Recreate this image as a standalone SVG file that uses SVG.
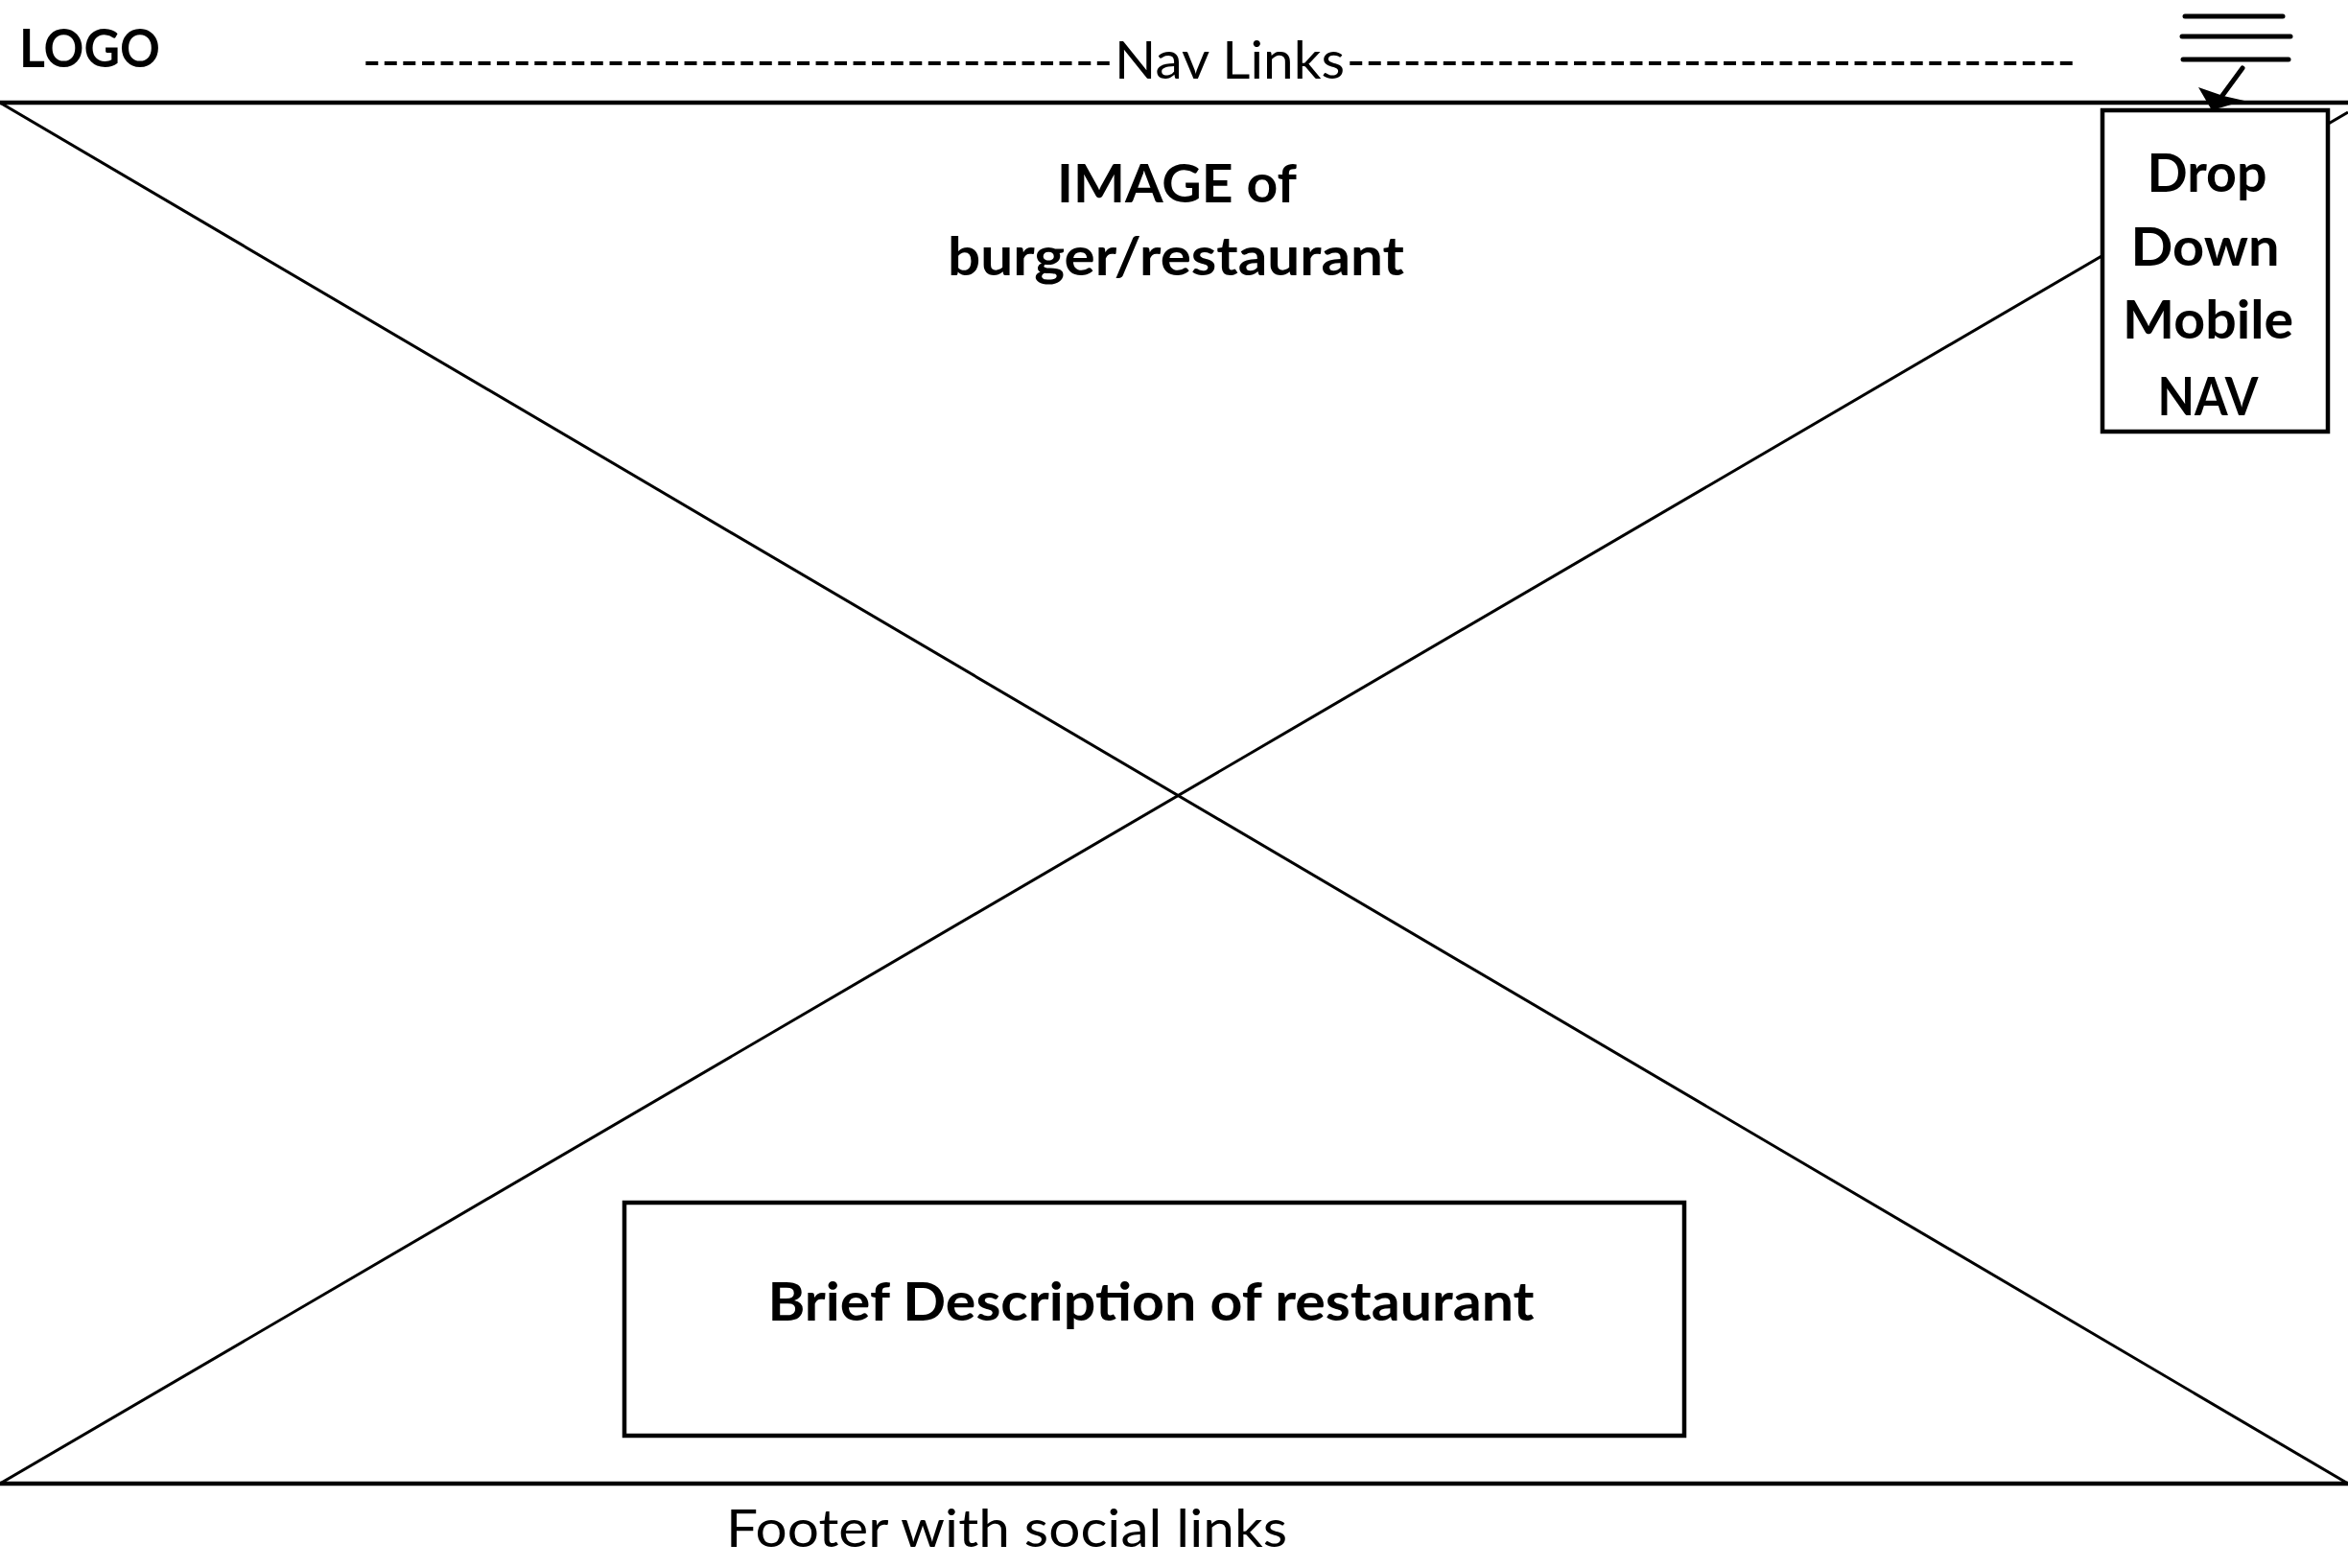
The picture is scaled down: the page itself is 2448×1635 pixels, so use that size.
<svg xmlns="http://www.w3.org/2000/svg" width="2448" height="1635" viewBox="0 0 2448 1635">
<style>
.ln{stroke:#000;fill:none;stroke-width:3}
.frame{stroke:#000;fill:none;stroke-width:4.5}
.box{stroke:#000;fill:#fff;stroke-width:4.5}
.b{font-family:Lato,"Liberation Sans",sans-serif;font-weight:bold;font-size:56px;fill:#000}
.r{font-family:Lato,"Liberation Sans",sans-serif;font-weight:normal;font-size:55px;fill:#000}
.m{text-anchor:middle}
.ham{stroke:#000;stroke-width:5;stroke-linecap:round}
</style>
<rect width="2448" height="1635" fill="#fff"/>
<g id="image-placeholder">
<line class="ln" x1="0" y1="107" x2="2448" y2="1547"/>
<line class="ln" x1="0" y1="1547" x2="2448" y2="117"/>
<text class="b m" x="1227" y="211" textLength="250" lengthAdjust="spacingAndGlyphs">IMAGE of</text>
<text class="b m" x="1226" y="287" textLength="476" lengthAdjust="spacingAndGlyphs">burger/restaurant</text>
</g>
<g id="header">
<line class="frame" x1="0" y1="107" x2="2448" y2="107"/>
<text class="b" x="20" y="70" textLength="147" lengthAdjust="spacingAndGlyphs">LOGO</text>
<text class="r" y="82"><tspan x="378" textLength="782" lengthAdjust="spacingAndGlyphs">----------------------------------------</tspan><tspan x="1162" textLength="240" lengthAdjust="spacingAndGlyphs">Nav Links</tspan><tspan x="1404" textLength="760" lengthAdjust="spacingAndGlyphs">---------------------------------------</tspan></text>
</g>
<g id="hamburger">
<line class="ham" x1="2278" y1="17" x2="2380" y2="17"/>
<line class="ham" x1="2275" y1="38" x2="2388" y2="38"/>
<line class="ham" x1="2276" y1="62" x2="2386" y2="62"/>
</g>
<g id="dropdown">
<rect class="box" x="2192" y="115" width="235" height="335"/>
<text class="b m" x="2301" y="200" textLength="125" lengthAdjust="spacingAndGlyphs">Drop</text>
<text class="b m" x="2299" y="277" textLength="155" lengthAdjust="spacingAndGlyphs">Down</text>
<text class="b m" x="2302" y="353" textLength="178" lengthAdjust="spacingAndGlyphs">Mobile</text>
<text class="b m" x="2302" y="433" textLength="105" lengthAdjust="spacingAndGlyphs">NAV</text>
</g>
<g id="description">
<rect class="box" x="651" y="1254" width="1105" height="243"/>
<text class="b m" x="1200" y="1377" textLength="799" lengthAdjust="spacingAndGlyphs">Brief Description of restaurant</text>
</g>
<g id="footer">
<line class="frame" x1="0" y1="1547" x2="2448" y2="1547"/>
<text class="r" x="757" y="1613" textLength="585" lengthAdjust="spacingAndGlyphs">Footer with social links</text>
</g>
<g id="connectors">
<line x1="2338" y1="71" x2="2316" y2="101" stroke="#000" stroke-width="5" stroke-linecap="round"/>
<polygon points="2292,91 2318,100 2340,105 2306,115" fill="#000"/>
</g>
</svg>
